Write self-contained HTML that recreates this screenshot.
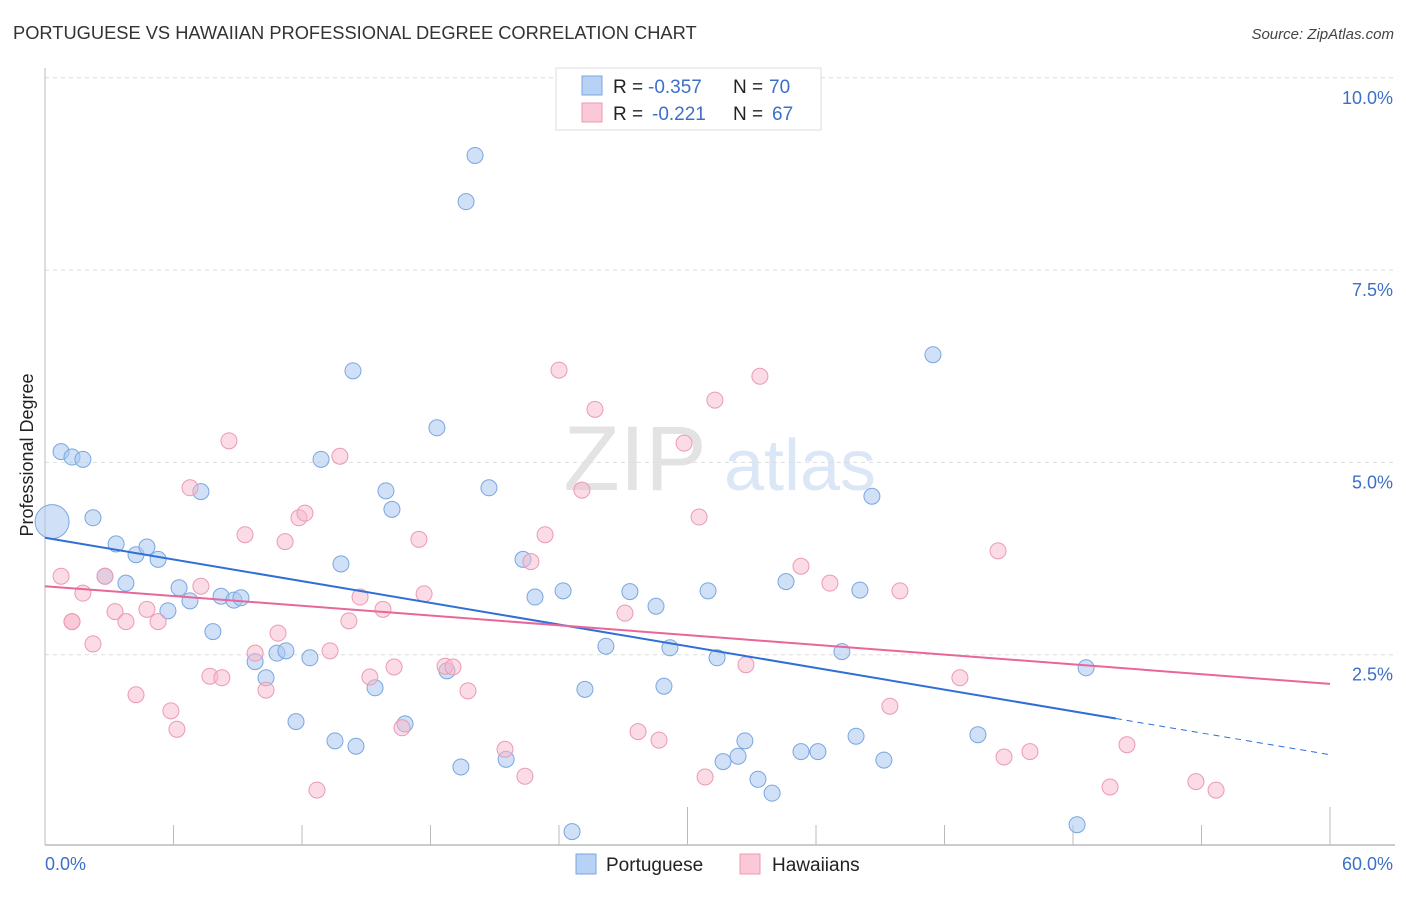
<!DOCTYPE html>
<html><head><meta charset="utf-8"><style>
body{margin:0;background:#fff;font-family:"Liberation Sans",sans-serif;}
svg text{font-family:"Liberation Sans",sans-serif;}
</style></head><body>
<svg id="chart" width="1406" height="892" xmlns="http://www.w3.org/2000/svg">
<text x="13" y="39" font-size="18.3" fill="#333">PORTUGUESE VS HAWAIIAN PROFESSIONAL DEGREE CORRELATION CHART</text>
<text x="1394" y="39" font-size="15" fill="#444" text-anchor="end" font-style="italic">Source: ZipAtlas.com</text>
<g opacity="0.4">
<text x="635" y="490" font-size="92" fill="#bbb" font-family="Liberation Serif" text-anchor="middle">ZIP</text>
<text x="800" y="490" font-size="72" fill="#a8c4ea" text-anchor="middle">atlas</text>
</g>
<g id="grid"></g>
<g id="axes"></g>
<g id="pts"></g>
<g id="lines"></g>
<text transform="translate(33,455) rotate(-90)" font-size="18" fill="#222" text-anchor="middle">Professional Degree</text>
<text x="45" y="870" font-size="18" fill="#3d6fc9">0.0%</text>
<text x="1393" y="870" font-size="18" fill="#3d6fc9" text-anchor="end">60.0%</text>
<g>
<rect x="556" y="68" width="265" height="62" fill="#fff" stroke="#ddd"/>
<rect x="582" y="76" width="20" height="19" fill="#b7d2f5" stroke="#7aa6e0"/>
<rect x="582" y="103" width="20" height="19" fill="#fac8d6" stroke="#ec9ab3"/>
<text x="613" y="93" font-size="19" fill="#222">R =</text>
<text x="648" y="93" font-size="19" fill="#3d6fc9">-0.357</text>
<text x="733" y="93" font-size="19" fill="#222">N =</text>
<text x="769" y="93" font-size="19" fill="#3d6fc9">70</text>
<text x="613" y="120" font-size="19" fill="#222">R =</text>
<text x="652" y="120" font-size="19" fill="#3d6fc9">-0.221</text>
<text x="733" y="120" font-size="19" fill="#222">N =</text>
<text x="772" y="120" font-size="19" fill="#3d6fc9">67</text>
</g>
<g>
<rect x="576" y="854" width="20" height="20" fill="#b7d2f5" stroke="#7aa6e0"/>
<text x="606" y="871" font-size="19" fill="#222">Portuguese</text>
<rect x="740" y="854" width="20" height="20" fill="#fac8d6" stroke="#ec9ab3"/>
<text x="772" y="871" font-size="19" fill="#222">Hawaiians</text>
</g>
</svg>
<script>
const yTicks=[2.5,5.0,7.5,10.0];
const yTickLabels=["2.5%","5.0%","7.5%","10.0%"];
const xTicks=[0,6,12,18,24,30,36,42,48,54,60];
const blueX=[0.33,0.75,1.26,1.77,2.24,3.32,3.78,4.25,4.76,5.28,5.74,6.26,6.77,7.28,7.84,8.22,8.82,9.15,9.81,10.32,10.83,11.25,11.72,12.37,12.89,13.54,13.82,14.38,14.52,15.41,15.92,16.20,16.81,18.30,18.77,19.42,19.66,20.08,20.73,21.53,22.32,22.88,24.19,24.61,25.21,26.19,27.31,28.53,28.90,29.18,30.96,31.38,31.66,32.36,32.68,33.29,33.95,34.60,35.30,36.09,37.21,37.87,38.05,38.61,39.17,41.46,43.56,48.19,48.61,2.80];
const blueY=[4.23,5.14,5.07,5.04,4.28,3.94,3.43,3.80,3.90,3.74,3.07,3.37,3.20,4.62,2.80,3.26,3.21,3.24,2.41,2.20,2.52,2.55,1.63,2.46,5.04,1.38,3.68,6.19,1.31,2.07,4.63,4.39,1.60,5.45,2.29,1.04,8.39,8.99,4.67,1.14,3.74,3.25,3.33,0.20,2.05,2.61,3.32,3.13,2.09,2.59,3.33,2.46,1.11,1.18,1.38,0.88,0.70,3.45,1.24,1.24,2.54,1.44,3.34,4.56,1.13,6.40,1.46,0.29,2.33,3.52];
const pinkX=[0.75,1.26,1.77,2.24,2.80,3.27,3.78,4.25,4.76,5.28,5.88,6.16,6.77,7.28,7.70,8.26,8.59,9.34,9.81,10.32,10.88,11.21,11.86,12.14,12.70,13.31,13.77,14.19,14.71,15.17,15.78,16.30,16.67,17.46,17.70,18.68,19.05,19.75,21.48,22.41,22.69,23.35,24.00,25.07,25.68,27.08,27.69,28.67,29.84,30.54,30.82,31.28,32.73,33.38,35.30,36.65,39.45,39.92,42.72,44.50,44.78,45.99,49.73,50.52,53.74,54.68,1.26];
const pinkY=[3.52,2.93,3.30,2.64,3.52,3.06,2.93,1.98,3.09,2.93,1.77,1.53,4.67,3.39,2.22,2.20,5.28,4.06,2.52,2.04,2.78,3.97,4.28,4.34,0.74,2.55,5.08,2.94,3.25,2.21,3.09,2.34,1.55,4.00,3.29,2.35,2.34,2.03,1.27,0.92,3.71,4.06,6.20,4.64,5.69,3.04,1.50,1.39,5.25,4.29,0.91,5.81,2.37,6.12,3.65,3.43,1.83,3.33,2.20,3.85,1.17,1.24,0.78,1.33,0.85,0.74,2.93];
const blueTrend=[4.02,1.20];
const blueSolidEnd=50;
const pinkTrend=[3.39,2.12];
const NS="http://www.w3.org/2000/svg";
const X=v=>45+v/60*1285;
const Y=v=>847-v*76.92;
function mk(t,a,p){const e=document.createElementNS(NS,t);for(const k in a)e.setAttribute(k,a[k]);document.getElementById(p).appendChild(e);return e;}
yTicks.forEach((v,i)=>{
 const l=mk('line',{x1:45,x2:1395,y1:Y(v),y2:Y(v),stroke:'#ddd','stroke-dasharray':'4,4'},'grid');
 
 
 const t=mk('text',{x:1393,y:Y(v)+26,'font-size':18,fill:'#3d6fc9','text-anchor':'end'},'grid');
 t.textContent=yTickLabels[i];
 
 
});
const ax=mk('line',{x1:45,x2:1395,y1:845,y2:845,stroke:'#bbb','stroke-width':1.5},'axes');


const ay=mk('line',{x1:45,x2:45,y1:68,y2:845,stroke:'#bbb'},'axes');


xTicks.forEach((v,i)=>{
 const big=(i%5==0);
 const t=mk('line',{x1:X(v),x2:X(v),y1:big?807:825,y2:845,stroke:'#bbb'},'axes');
 
 
});
blueX.forEach((v,i)=>{
 const c=mk('circle',{cx:X(v),cy:Y(blueY[i]),r:i==0?17:8,fill:'rgba(169,200,240,0.55)',stroke:'#7aa6e0','stroke-width':1},'pts');
 
 
});
pinkX.forEach((v,i)=>{
 const c=mk('circle',{cx:X(v),cy:Y(pinkY[i]),r:8,fill:'rgba(247,184,203,0.5)',stroke:'#ec9ab3','stroke-width':1},'pts');
 
 
});
const by=x=>blueTrend[0]+(blueTrend[1]-blueTrend[0])*x/60;
const b1=mk('line',{x1:X(0),y1:Y(by(0)),x2:X(blueSolidEnd),y2:Y(by(blueSolidEnd)),stroke:'#2f6fd6','stroke-width':2},'lines');


const b2=mk('line',{x1:X(blueSolidEnd),y1:Y(by(blueSolidEnd)),x2:X(60),y2:Y(by(60)),stroke:'#2f6fd6','stroke-width':1,'stroke-dasharray':'6,5'},'lines');


const p1=mk('line',{x1:X(0),y1:Y(pinkTrend[0]),x2:X(60),y2:Y(pinkTrend[1]),stroke:'#e8679a','stroke-width':2},'lines');


</script>
</body></html>
